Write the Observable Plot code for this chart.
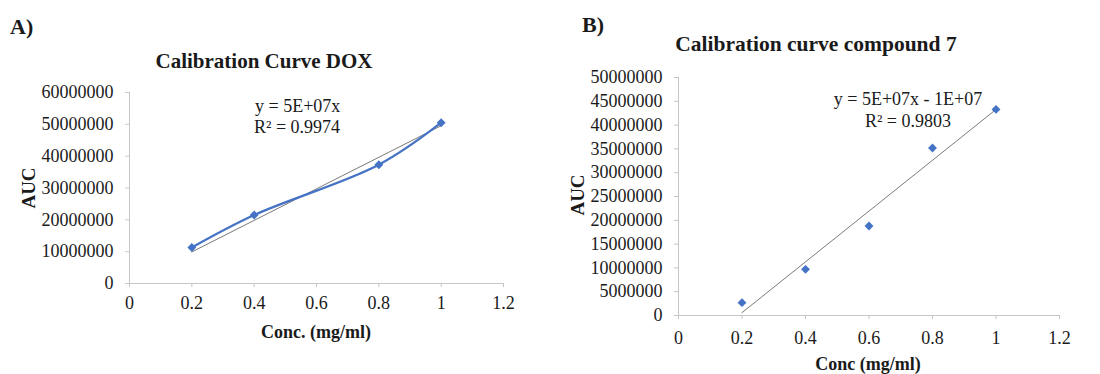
<!DOCTYPE html>
<html><head><meta charset="utf-8">
<script src="https://cdn.jsdelivr.net/npm/d3@7"></script>
<script src="https://cdn.jsdelivr.net/npm/@observablehq/plot@0.6"></script>
<style>
body{margin:0;background:#fff;}
#wrap{position:relative;width:1100px;height:374px;font-family:"Liberation Serif","Times New Roman",serif;color:#1a1a1a;overflow:hidden;}
.abs{position:absolute;white-space:nowrap;line-height:1;}
.b{font-weight:bold;}
.c{transform:translateX(-50%);}
svg{position:absolute;top:0;}
</style></head><body><div id="wrap"></div>
<script>
// Panel A: Calibration Curve DOX
const concA = [0.2, 0.4, 0.8, 1.0];
const aucA  = [11300000, 21500000, 37300000, 50500000];
// Panel B: Calibration curve compound 7
const concB = [0.2, 0.4, 0.6, 0.8, 1.0];
const aucB  = [2700000, 9700000, 18800000, 35200000, 43300000];
// tick labels
const xTicks  = [0, 0.2, 0.4, 0.6, 0.8, 1, 1.2];
const yTicksA = [0, 10000000, 20000000, 30000000, 40000000, 50000000, 60000000];
const yTicksB = [0, 5000000, 10000000, 15000000, 20000000, 25000000, 30000000, 35000000, 40000000, 45000000, 50000000];
// texts
const titleA = "Calibration Curve DOX", titleB = "Calibration curve compound 7";
const eqA = ["y = 5E+07x", "R² = 0.9974"];
const eqB = ["y = 5E+07x - 1E+07", "R² = 0.9803"];

const blue = "#4472C4", grid = "#c6c6c6", trend = "#7a7a7a";
const wrap = document.getElementById("wrap");

function fitOrigin(xs, ys){ const sxy=d3.sum(xs,(x,i)=>x*ys[i]), sxx=d3.sum(xs,x=>x*x); return {m:sxy/sxx,b:0}; }
function fitLS(xs, ys){ const mx=d3.mean(xs), my=d3.mean(ys); const sxy=d3.sum(xs,(x,i)=>(x-mx)*(ys[i]-my)), sxx=d3.sum(xs,x=>(x-mx)**2); const m=sxy/sxx; return {m, b:my-m*mx}; }

function panel(xs, ys, yTicks, fit, withLine, m){
  const pts = xs.map((x,i)=>({x, y: ys[i]}));
  const ext = d3.extent(xs);
  const tl = ext.map(x=>({x, y: fit.m*x+fit.b}));
  const marks = [
    Plot.ruleY([0], {stroke: grid}),
    Plot.ruleX([0], {stroke: grid}),
    Plot.axisX({ticks: xTicks, tickFormat: d=>String(d), tickSize: 4, tickPadding: m.xp, stroke: grid, fill: "#1a1a1a", label: null}),
    Plot.axisY({ticks: yTicks, tickFormat: d3.format("d"), tickSize: 4, tickPadding: 12, stroke: grid, fill: "#1a1a1a", label: null}),
    Plot.line(tl, {x: "x", y: "y", stroke: trend, strokeWidth: 1})
  ];
  if (withLine) marks.push(Plot.line(pts, {x: "x", y: "y", stroke: blue, strokeWidth: 2.2, curve: "catmull-rom"}));
  marks.push(Plot.dot(pts, {x: "x", y: "y", symbol: "diamond2", r: 4, fill: blue, stroke: null}));
  const svg = Plot.plot({
    width: 550, height: 374,
    marginLeft: m.l, marginRight: m.r, marginTop: m.t, marginBottom: m.b,
    x: {domain: [0, 1.2]},
    y: {domain: [0, yTicks[yTicks.length-1]]},
    style: {fontFamily: '"Liberation Serif","Times New Roman",serif', fontSize: "18px", background: "transparent"},
    marks
  });
  svg.style.left = m.left + "px";
  return svg;
}

wrap.appendChild(panel(concA, aucA, yTicksA, fitOrigin(concA, aucA), true, {l:129, r:47, t:92, b:91, left:0, xp:9}));
wrap.appendChild(panel(concB, aucB, yTicksB, fitLS(concB, aucB), false, {l:128, r:41, t:77, b:59, left:550, xp:12}));

function txt(s, x, y, cls, size, extra){
  const d = document.createElement("div");
  d.className = "abs " + (cls||"");
  d.textContent = s;
  d.style.left = x + "px"; d.style.top = y + "px"; d.style.fontSize = size + "px";
  if (extra) Object.assign(d.style, extra);
  wrap.appendChild(d); return d;
}
// Panel labels & titles
txt("A)", 10, 16, "b", 22);
txt("B)", 582, 14, "b", 22);
txt(titleA, 264, 51, "b c", 21);
txt(titleB, 816, 34, "b c", 21.5);
// equations
txt(eqA[0], 255, 97, "", 18);
txt(eqA[1], 254, 118, "", 18);
txt(eqB[0], 908, 90, "c", 18);
txt(eqB[1], 908, 112, "c", 18);
// axis titles
txt("Conc. (mg/ml)", 316, 323, "b c", 18);
txt("Conc (mg/ml)", 868, 355, "b c", 18);
txt("AUC", 28, 188, "b", 19, {transform: "translate(-50%,-50%) rotate(-90deg)"});
txt("AUC", 577, 195, "b", 19, {transform: "translate(-50%,-50%) rotate(-90deg)"});
</script></body></html>
